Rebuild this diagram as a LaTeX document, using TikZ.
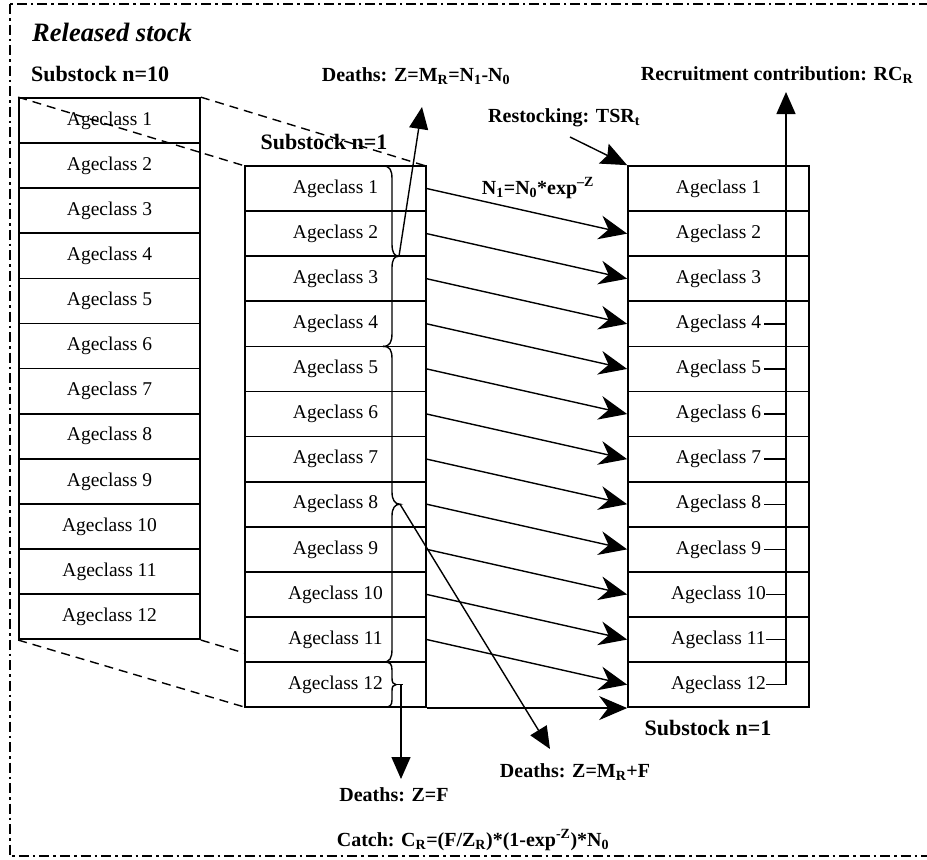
\documentclass[tikz,border=0pt]{standalone}
\usepackage{fontspec}
\setmainfont{Liberation Serif}
\usetikzlibrary{arrows.meta,calc}
\begin{document}
\begin{tikzpicture}[x=1pt,y=-1pt,
  agerow/.style={draw, line width=1.7pt, minimum width=181pt, minimum height=45.1pt, inner sep=0pt, font=\fontsize{19.5}{22}\selectfont, fill=white},
  lbl/.style={font=\fontsize{20}{22}\selectfont\bfseries, inner sep=0pt},
  sublbl/.style={font=\fontsize{22}{24}\selectfont\bfseries, inner sep=0pt},
  flowarr/.style={line width=1.4pt, -{Stealth[length=28pt,width=24pt,inset=9pt]}},
  restarr/.style={line width=1.4pt, -{Stealth[length=26pt,width=22pt,inset=4pt]}},
  deatharr/.style={line width=1.4pt, -{Triangle[length=22pt,width=19pt]}},
  persp/.style={line width=1.4pt, dash pattern=on 9pt off 6pt},
  bracepath/.style={line width=1.4pt},
  tickline/.style={line width=1.4pt},
  framestyle/.style={line width=2.4pt, dash pattern=on 10pt off 4pt on 2.5pt off 4pt}]
\useasboundingbox (0,0) rectangle (927,860);
\clip (0,0) rectangle (927,860);
% outer frame
\draw[framestyle] (10,4) rectangle (960,856);
% left box (Substock n=10)
\foreach \k in {1,...,12}
  \node[agerow] (l\k) at (109.5,{98+45.1*(\k-0.5)}) {Ageclass \k};
% corners of middle box
\coordinate (mNW) at (245,166);
\coordinate (mNE) at (426,166);
\coordinate (mSW) at (245,707.2);
\coordinate (mSE) at (426,707.2);
\draw[persp] (l1.north west) -- (mNW);
\draw[persp] (l1.north east) -- (mNE);
\draw[persp] (l12.south west) -- (mSW);
\draw[persp] (l12.south east) -- (mSE);
% middle box (Substock n=1)
\foreach \k in {1,...,12}
  \node[agerow] (m\k) at (335.5,{166+45.1*(\k-0.5)}) {Ageclass \k};
% right box (Substock n=1)
\foreach \k in {1,...,12}
  \node[agerow] (r\k) at (718.5,{166+45.1*(\k-0.5)}) {Ageclass \k};
% braces
\draw[bracepath] (383,166) .. controls (390,166) and (392,170) .. (392,179) -- (392,244)
  .. controls (392,252) and (394,256.2) .. (399,256.2)
  .. controls (394,256.2) and (392,260) .. (392,268) -- (392,333)
  .. controls (392,342) and (390,346.4) .. (383,346.4);
\draw[bracepath] (383,346.4) .. controls (390,346.4) and (392,350) .. (392,359) -- (392,492)
  .. controls (392,500) and (395,504.2) .. (400,504.2)
  .. controls (395,504.2) and (392,508) .. (392,516) -- (392,649)
  .. controls (392,658) and (390,662.1) .. (383,662.1);
\draw[bracepath] (385,662.1) .. controls (390,662.1) and (392,664) .. (392,670) -- (392,678)
  .. controls (392,682) and (393,684.6) .. (396,684.6)
  .. controls (393,684.6) and (392,687) .. (392,691) -- (392,700)
  .. controls (392,705) and (390,707.2) .. (385,707.2);
\coordinate (tip1) at (399,256.2);
\coordinate (tip2) at (400,504.2);
\coordinate (tip3) at (396,684.6);
\coordinate (tip3e) at (403,684.6);
\coordinate (zfstart) at (401,684.6);
\coordinate (zfend) at (401,779);
\coordinate (nnend) at (422,107);
\coordinate (mfend) at (550,749);
\draw[tickline] (tip3) -- (tip3e);
\draw[deatharr] (zfstart) -- (zfend);
\draw[deatharr] (tip1) -- (nnend);
\draw[deatharr] (tip2) -- (mfend);
% flow arrows
\foreach \k [evaluate=\k as \n using int(\k+1)] in {1,...,11}
  \draw[flowarr] (m\k.east) -- (r\n.west);
\draw[flowarr] (m12.south east) -- (r12.south west);
% restocking arrow
\coordinate (rsstart) at (570,137);
\draw[restarr] (rsstart) -- (r1.north west);
% recruitment collector
\coordinate (rcbot) at (786,684.6);
\coordinate (rctop) at (786,92);
\draw[deatharr] (rcbot) -- (rctop);
\foreach \k in {4,...,9}
  \draw[tickline] ($(r\k.center)+(45.5,0)$) -- ($(r\k.center)+(67.5,0)$);
\foreach \k in {10,11,12}
  \draw[tickline] ($(r\k.center)+(47.5,0)$) -- ($(r\k.center)+(67.5,0)$);
% labels
\node[font=\fontsize{26.5}{28}\selectfont\bfseries\itshape, anchor=west, inner sep=0pt] (title) at (32,32) {Released stock};
\node[sublbl, anchor=west] (s10) at (31,74) {Substock n=10};
\node[lbl] (dth1) at (416,76) {Deaths: Z=M\textsubscript{R}=N\textsubscript{1}-N\textsubscript{0}};
\node[lbl] (rc) at (777,75) {Recruitment contribution: RC\textsubscript{R}};
\node[lbl, anchor=west] (rest) at (488,118) {Restocking: TSR\textsubscript{t}};
\node[sublbl] (s1top) at (324,142) {Substock n=1};
\node[lbl] (nexp) at (538,188) {N\textsubscript{1}=N\textsubscript{0}*exp\textsuperscript{--Z}};
\node[sublbl] (s1bot) at (708,728) {Substock n=1};
\node[lbl] (dth2) at (575,772) {Deaths: Z=M\textsubscript{R}+F};
\node[lbl] (dth3) at (394,795) {Deaths: Z=F};
\node[lbl] (catch) at (473,840) {Catch: C\textsubscript{R}=(F/Z\textsubscript{R})*(1-exp\textsuperscript{-Z})*N\textsubscript{0}};
\end{tikzpicture}
\end{document}
